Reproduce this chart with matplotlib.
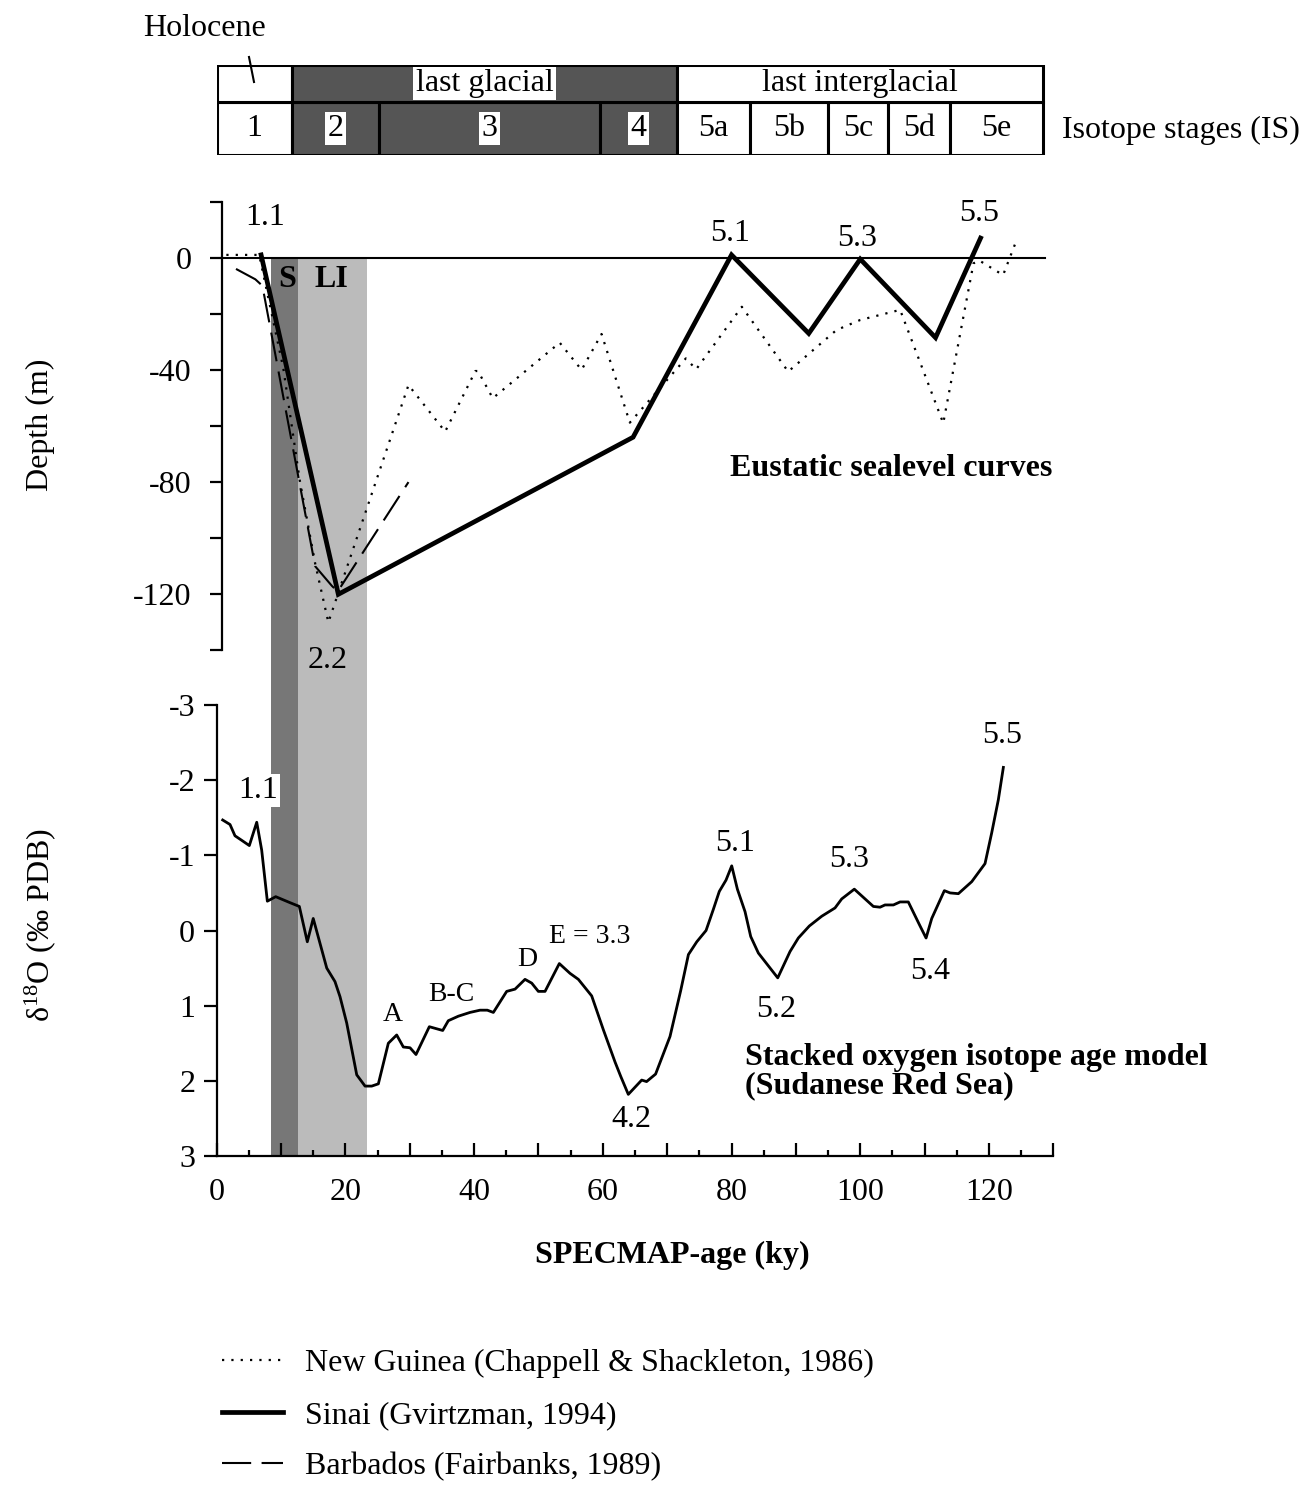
import matplotlib
matplotlib.use("Agg")
import matplotlib.pyplot as plt
import matplotlib.transforms as mtransforms
from matplotlib.patches import Rectangle
import numpy as np

plt.rcParams['font.family'] = ['Liberation Serif', 'DejaVu Serif']
plt.rcParams['mathtext.fontset'] = 'custom'
plt.rcParams['mathtext.rm'] = 'Liberation Serif'
plt.rcParams['axes.unicode_minus'] = False

# ---- data ----
# sea level curves (age ky, depth m)
ng_age = [1.5, 6.6, 10.35, 12.9, 15.3, 17.35, 29.8, 35.5, 40.2, 40.6, 42.9, 53.3,
          56.7, 59.8, 64.2, 72.9, 74.5, 81.6, 88.8, 96.3, 100.0, 106.2, 112.9,
          117.6, 118.5, 122.2, 124.3]
ng_depth = [1, 1, -39.4, -79.3, -109, -130, -45.4, -62, -40.4, -40.4, -50.1, -30.3,
            -40, -27.2, -58.8, -35.9, -39.8, -17.5, -40.6, -25.8, -22.2, -18.6, -59,
            -2, -1, -6.2, 6.3]

sinai_age = [6.9, 18.9, 64.7, 80.0, 92.0, 100.0, 111.7, 118.7]
sinai_depth = [1, -120, -64, 1, -27, -0.5, -28.5, 7]

barb_age = [3.0, 6.0, 7.1, 15.3, 17.9, 18.8, 29.8]
barb_depth = [-4, -7.7, -10, -110, -117, -119, -80]

# stacked oxygen isotope record (age ky, d18O permil PDB)
d18o_age = [0.93, 2.07, 2.84, 3.88, 5.07, 6.22, 6.99, 7.87, 9.17, 11.4, 12.84, 14.08,
            15.0, 16.05, 17.1, 18.38, 19.16, 20.2, 21.76, 23.05, 24.09, 25.12, 26.67,
            27.97, 29.0, 30.04, 30.97, 33.04, 35.12, 35.99, 37.55, 39.36, 40.92, 42.05,
            42.99, 45.06, 46.36, 47.91, 48.95, 49.98, 51.02, 53.24, 54.9, 56.2, 58.27,
            60.08, 61.9, 62.78, 63.96, 66.04, 66.8, 68.2, 70.44, 72.1, 73.3, 74.6,
            76.04, 77.17, 78.1, 79.14, 80.03, 80.91, 82.1, 82.98, 84.17, 87.18, 89.09,
            90.38, 92.09, 94.02, 96.08, 97.12, 99.08, 102.04, 103.08, 103.85, 105.15,
            106.19, 107.47, 109.18, 110.23, 111.11, 113.07, 113.96, 115.25, 117.33,
            118.36, 119.39, 120.43, 121.46, 122.24]
d18o_val = [-1.47, -1.41, -1.26, -1.20, -1.13, -1.44, -1.07, -0.39, -0.45, -0.37, -0.32,
            0.15, -0.16, 0.17, 0.50, 0.68, 0.88, 1.23, 1.92, 2.07, 2.07, 2.04, 1.50, 1.39,
            1.55, 1.56, 1.65, 1.28, 1.33, 1.20, 1.14, 1.09, 1.06, 1.06, 1.09, 0.81, 0.78,
            0.65, 0.70, 0.81, 0.81, 0.44, 0.57, 0.65, 0.87, 1.32, 1.75, 1.94, 2.18, 1.99,
            2.01, 1.91, 1.41, 0.80, 0.32, 0.15, 0.0, -0.28, -0.52, -0.67, -0.86, -0.55,
            -0.25, 0.08, 0.30, 0.63, 0.28, 0.10, -0.06, -0.19, -0.30, -0.42, -0.55, -0.32,
            -0.31, -0.34, -0.34, -0.38, -0.38, -0.08, 0.10, -0.16, -0.53, -0.50, -0.49,
            -0.65, -0.77, -0.89, -1.30, -1.74, -2.17]

# isotope stage boxes
stage_edges = [0, 11.7, 25.2, 59.6, 71.5, 82.9, 95.0, 104.3, 114.0, 128.4]
stage_labels = ['1', '2', '3', '4', '5a', '5b', '5c', '5d', '5e']
stage_dark = [False, True, True, True, False, False, False, False, False]
period_edges = [0, 11.7, 71.5, 128.4]
period_labels = ['', 'last glacial', 'last interglacial']
period_dark = [False, True, False]

# shaded intervals S and LI
s_band = (8.4, 12.6)
li_band = (12.6, 23.3)

# labels on curves
sl_labels = [('1.1', 7.6, 14.2), ('5.1', 79.8, 8.8), ('5.3', 99.5, 6.9), ('5.5', 118.5, 15.8),
             ('2.2', 17.3, -143.5)]
iso_labels = [('5.1', 80.5, -1.16), ('5.2', 87.0, 1.05), ('5.3', 98.3, -0.94),
              ('5.4', 110.8, 0.55), ('5.5', 122.0, -2.60), ('4.2', 64.5, 2.52)]
event_labels = [('A', 27.4, 1.12), ('B-C', 36.5, 0.85), ('D', 48.2, 0.39),
                ('E = 3.3', 58.0, 0.08)]

W, H = 1301, 1493
fig = plt.figure(figsize=(W / 100, H / 100), dpi=100)
FS = 23
dark_box = '#555555'
c_s = '#777777'
c_li = '#bbbbbb'

L = 216.7 / W
Wd = (1053.3 - 216.7) / W

# ---- stage box ----
axs = fig.add_axes([L, 1 - 155 / H, Wd, 90 / H])
axs.set_xlim(0, 130)
axs.set_ylim(0, 90)
axs.axis('off')
row_split = 53
for i in range(len(stage_labels)):
    x0, x1 = stage_edges[i], stage_edges[i + 1]
    axs.bar(x0, row_split, width=x1 - x0, bottom=0, align='edge',
            color=dark_box if stage_dark[i] else 'white', edgecolor='black', lw=2.2)
    bb = dict(facecolor='white', edgecolor='none', pad=1.5) if stage_dark[i] else None
    axs.text((x0 + x1) / 2, row_split / 2, stage_labels[i], ha='center', va='center',
             fontsize=FS, bbox=bb)
for i in range(len(period_labels)):
    x0, x1 = period_edges[i], period_edges[i + 1]
    axs.bar(x0, 90 - row_split, width=x1 - x0, bottom=row_split, align='edge',
            color=dark_box if period_dark[i] else 'white', edgecolor='black', lw=2.2)
    if period_labels[i]:
        bb = dict(facecolor='white', edgecolor='none', pad=1.5) if period_dark[i] else None
        axs.text((x0 + x1) / 2, row_split + (90 - row_split) / 2, period_labels[i],
                 ha='center', va='center', fontsize=FS, bbox=bb)
fig.text(205 / W, 1 - 28 / H, 'Holocene', ha='center', va='center', fontsize=FS)
fig.add_artist(plt.Line2D([249 / W, 254 / W], [1 - 57 / H, 1 - 82 / H], color='black', lw=1.5))
fig.text(1062 / W, 1 - 130 / H, 'Isotope stages (IS)', ha='left', va='center', fontsize=FS)

# ---- upper panel: sea level ----
ax1 = fig.add_axes([L, 1 - 650.4 / H, Wd, (650.4 - 201.6) / H])
ax1.set_xlim(0, 130)
ax1.set_ylim(-140, 20)
ax1.patch.set_visible(False)
ax1.set_zorder(2)
for s in ['top', 'right', 'bottom']:
    ax1.spines[s].set_visible(False)
ax1.spines['left'].set_position(('data', 0.8))
ax1.spines['left'].set_linewidth(1.6)
ax1.set_xticks([])
ax1.set_yticks(np.arange(-140, 21, 20))
ax1.set_yticklabels(['' if v % 40 else str(v) for v in np.arange(-140, 21, 20)])
ax1.tick_params(axis='y', direction='out', length=9, width=1.6, labelsize=FS, pad=13)
ax1.plot([0.8, 128.7], [0, 0], color='black', lw=1.5)

ng_line, = ax1.plot(ng_age, ng_depth, color='black', lw=1.6, linestyle=(0, (1, 3.2)))
sinai_line, = ax1.plot(sinai_age, sinai_depth, color='black', lw=3.4, solid_joinstyle='miter')
barb_line, = ax1.plot(barb_age, barb_depth, color='black', lw=1.5, linestyle=(0, (14, 5)))

for t, x, y in sl_labels:
    ax1.text(x, y, t, ha='center', va='center', fontsize=FS, clip_on=False)
ax1.text(10.9, -7.9, 'S', ha='center', va='center', fontsize=FS, fontweight='bold')
ax1.text(17.9, -7.9, 'LI', ha='center', va='center', fontsize=FS, fontweight='bold')
ax1.text(79.8, -75.3, 'Eustatic sealevel curves', ha='left', va='center',
         fontsize=FS, fontweight='bold')
fig.text(40 / W, 1 - 425 / H, 'Depth (m)', rotation=90, ha='center', va='center', fontsize=FS)

# ---- lower panel: d18O ----
ax2 = fig.add_axes([L, 1 - 1156 / H, Wd, (1156 - 705) / H])
ax2.set_zorder(1)
ax2.set_xlim(0, 130)
ax2.set_ylim(3, -3)
for s in ['top', 'right']:
    ax2.spines[s].set_visible(False)
for s in ['left', 'bottom']:
    ax2.spines[s].set_linewidth(1.6)
ax2.set_yticks(np.arange(-3, 4, 1))
ax2.tick_params(axis='y', direction='out', length=9.5, width=1.6, labelsize=FS, pad=6)
ax2.set_xticks(np.arange(0, 131, 10))
ax2.set_xticklabels([str(v) if v % 20 == 0 and v <= 120 else '' for v in np.arange(0, 131, 10)])
ax2.set_xticks(np.arange(5, 130, 10), minor=True)
ax2.tick_params(axis='x', which='major', direction='in', length=9.5, width=1.6,
                labelsize=FS, pad=16)
ax2.tick_params(axis='x', which='minor', direction='in', length=4, width=1.6)
ax2.plot(d18o_age, d18o_val, color='black', lw=2)

for t, x, y in iso_labels:
    ax2.text(x, y, t, ha='center', va='center', fontsize=FS)
for t, x, y in event_labels:
    ax2.text(x, y, t, ha='center', va='center', fontsize=FS - 3)
ax2.text(6.4, -1.86, '1.1', ha='center', va='center', fontsize=FS,
         bbox=dict(facecolor='white', edgecolor='none', pad=1.5), zorder=5)
ax2.text(82.1, 1.88, 'Stacked oxygen isotope age model\n(Sudanese Red Sea)', ha='left',
         va='center', fontsize=FS, fontweight='bold', linespacing=0.97)
fig.text(40 / W, 1 - 925 / H, 'δ' + r'$\mathregular{^{18}}$' + 'O (‰ PDB)',
         rotation=90, ha='center', va='center', fontsize=FS)
fig.text(672 / W, 1 - 1255 / H, 'SPECMAP-age (ky)', ha='center', va='center',
         fontsize=FS, fontweight='bold')

# shading bands from the zero line of the sea level panel down to the d18O axis
fig.canvas.draw()
y_top = fig.transFigure.inverted().transform(ax1.transData.transform((0, 0)))[1]
y_bot = 1 - 1156 / H
trans = mtransforms.blended_transform_factory(ax2.transData, fig.transFigure)
for (a, b), c in [(s_band, c_s), (li_band, c_li)]:
    ax2.add_patch(Rectangle((a, y_bot), b - a, y_top - y_bot, transform=trans,
                            facecolor=c, edgecolor='none', clip_on=False, zorder=0))

# ---- legend ----
fig.legend([ng_line, sinai_line, barb_line],
           ['New Guinea (Chappell & Shackleton, 1986)', 'Sinai (Gvirtzman, 1994)',
            'Barbados (Fairbanks, 1989)'],
           loc='upper left', bbox_to_anchor=(222 / W, 1 - 1349 / H), frameon=False,
           fontsize=FS, handlelength=1.9, handletextpad=0.69, labelspacing=0.69,
           borderpad=0, borderaxespad=0)

fig.savefig('out.png', dpi=100)
